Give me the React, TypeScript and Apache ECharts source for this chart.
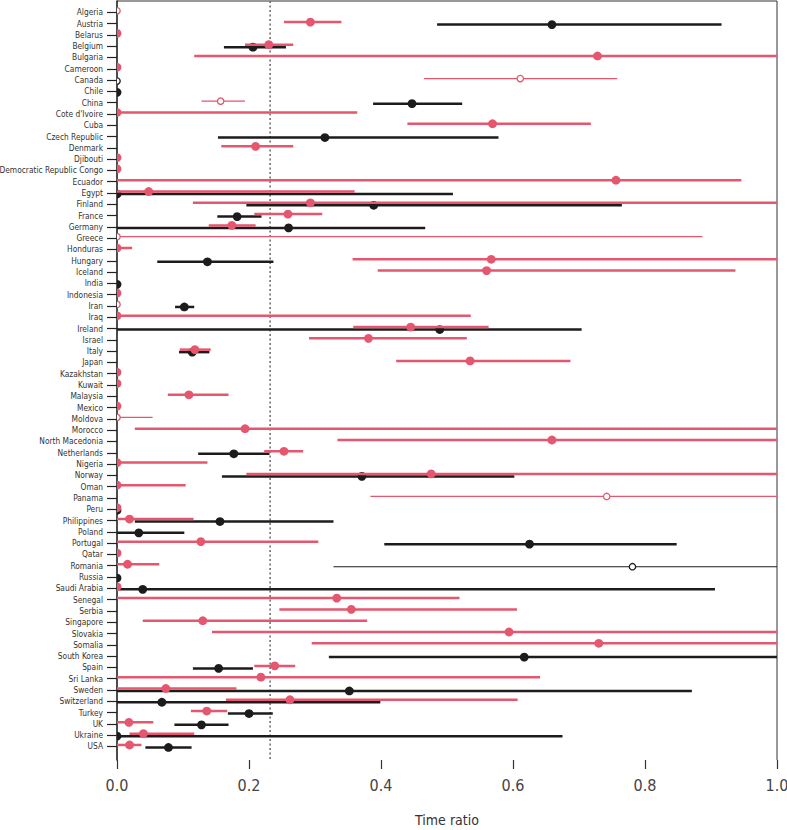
import React, { useEffect, useRef } from "react";
import * as echarts from "echarts";

const countries = [
  "Algeria", "Austria", "Belarus", "Belgium", "Bulgaria", "Cameroon", "Canada", "Chile", "China",
  "Cote d'Ivoire", "Cuba", "Czech Republic", "Denmark", "Djibouti", "Democratic Republic Congo",
  "Ecuador", "Egypt", "Finland", "France", "Germany", "Greece", "Honduras", "Hungary", "Iceland",
  "India", "Indonesia", "Iran", "Iraq", "Ireland", "Israel", "Italy", "Japan", "Kazakhstan", "Kuwait",
  "Malaysia", "Mexico", "Moldova", "Morocco", "North Macedonia", "Netherlands", "Nigeria", "Norway",
  "Oman", "Panama", "Peru", "Philippines", "Poland", "Portugal", "Qatar", "Romania", "Russia",
  "Saudi Arabia", "Senegal", "Serbia", "Singapore", "Slovakia", "Somalia", "South Korea", "Spain",
  "Sri Lanka", "Sweden", "Switzerland", "Turkey", "UK", "Ukraine", "USA",
];

const N = null;
// pink group: estimate, lower, upper, open marker
const pinkEst = [0, 0.293, 0, 0.230, 0.728, 0, 0.611, N, 0.157, 0, 0.569, N, 0.210, 0, 0, 0.756, 0.048, 0.293, 0.259, 0.174, 0, 0, 0.567, 0.560, N, 0, 0, 0, 0.445, 0.381, 0.118, 0.535, 0, 0, 0.109, 0, 0, 0.194, 0.659, 0.253, 0, 0.476, 0, 0.742, 0, 0.019, N, 0.127, 0, 0.016, N, 0, 0.333, 0.355, 0.130, 0.594, 0.730, N, 0.239, 0.218, 0.074, 0.262, 0.136, 0.018, 0.040, 0.019];
const pinkLow = [0, 0.253, 0, 0.194, 0.117, 0, 0.465, N, 0.128, 0, 0.440, N, 0.158, 0, 0, 0, 0, 0.115, 0.208, 0.139, 0, 0, 0.357, 0.395, N, 0, 0, 0, 0.358, 0.291, 0.095, 0.423, 0, 0, 0.077, 0, 0, 0.027, 0.334, 0.223, 0, 0.196, 0, 0.384, 0, 0, N, 0, 0, 0, N, 0, 0, 0.246, 0.039, 0.144, 0.295, N, 0.208, 0, 0, 0.165, 0.112, 0, 0.019, 0];
const pinkHigh = [0, 0.340, 0, 0.267, 1.2, 0, 0.758, N, 0.194, 0.364, 0.718, N, 0.267, 0, 0, 0.946, 0.360, 1.2, 0.311, 0.210, 0.887, 0.023, 1.2, 0.937, N, 0, 0, 0.536, 0.563, 0.530, 0.142, 0.687, 0, 0, 0.169, 0, 0.054, 1.2, 1.2, 0.282, 0.137, 1.2, 0.104, 1.2, 0, 0.116, N, 0.305, 0, 0.064, N, 0, 0.519, 0.606, 0.379, 1.2, 1.2, N, 0.270, 0.641, 0.181, 0.607, 0.167, 0.055, 0.117, 0.037];
const pinkOpen = ["Algeria", "Canada", "China", "Greece", "Iran", "Moldova", "Panama"];

// black group
const blackEst = [N, 0.659, N, 0.206, N, N, 0, 0, 0.447, N, N, 0.315, N, N, N, N, 0, 0.389, 0.182, 0.260, N, N, 0.137, N, 0, N, 0.102, N, 0.489, N, 0.114, N, N, N, N, N, N, N, N, 0.177, N, 0.371, N, N, 0, 0.156, 0.033, 0.625, N, 0.781, 0, 0.039, N, N, N, N, N, 0.617, 0.154, N, 0.352, 0.068, 0.200, 0.128, 0, 0.078];
const blackLow = [N, 0.485, N, 0.162, N, N, 0, 0, 0.388, N, N, 0.153, N, N, N, N, 0, 0.196, 0.152, 0, N, N, 0.061, N, 0, N, 0.088, N, 0, N, 0.094, N, N, N, N, N, N, N, N, 0.123, N, 0.159, N, N, 0, 0.027, 0, 0.405, N, 0.328, 0, 0, N, N, N, N, N, 0.321, 0.115, N, 0, 0, 0.168, 0.087, 0, 0.043];
const blackHigh = [N, 0.916, N, 0.256, N, N, 0, 0, 0.523, N, N, 0.578, N, N, N, N, 0.509, 0.765, 0.219, 0.467, N, N, 0.237, N, 0, N, 0.117, N, 0.704, N, 0.140, N, N, N, N, N, N, N, N, 0.231, N, 0.602, N, N, 0, 0.328, 0.102, 0.848, N, 1.2, 0, 0.906, N, N, N, N, N, 1.2, 0.206, N, 0.871, 0.399, 0.236, 0.169, 0.675, 0.113];
const blackOpen = ["Canada", "Romania"];

const referenceLine = 0.232;
const xTicks = [0, 0.2, 0.4, 0.6, 0.8, 1.0];
const yMin = -1;
const yMax = 66.2;

const PINK = "#e5566f";
const BLACK = "#1c1c1c";
const FONT = "'DejaVu Sans Condensed', 'Liberation Sans Narrow', sans-serif";

function buildData(est: any[], lo: any[], hi: any[], open: string[]) {
  const out: any[] = [];
  countries.forEach((c, i) => {
    if (est[i] === null) return;
    out.push([est[i], lo[i], hi[i], i, open.includes(c) ? 1 : 0]);
  });
  return out;
}

function makeRender(color: string, dy: number) {
  return (params: any, api: any) => {
    const est = api.value(0);
    const lo = api.value(1);
    const hi = api.value(2);
    const row = api.value(3);
    const open = api.value(4) === 1;
    const c = api.coord([est, row]);
    const l = api.coord([lo, row]);
    const h = api.coord([hi, row]);
    const cs = params.coordSys;
    const y = c[1] + dy;
    const x1 = Math.max(l[0], cs.x);
    const x2 = Math.min(h[0], cs.x + cs.width);
    const children: any[] = [];
    if (x2 > x1 + 0.5) {
      children.push({
        type: "line",
        shape: { x1, y1: y, x2, y2: y },
        style: { stroke: color, lineWidth: open ? 1.2 : 2.5 },
      });
    }
    children.push({
      type: "circle",
      shape: { cx: c[0], cy: y, r: open ? 3.2 : 4.4 },
      style: open ? { fill: "#fff", stroke: color, lineWidth: 1.3 } : { fill: color },
    });
    return { type: "group", children };
  };
}

export default function App() {
  const ref = useRef<HTMLDivElement>(null);
  useEffect(() => {
    if (!ref.current) return;
    const chart = echarts.init(ref.current, null, { renderer: "svg" });
    const rows = countries.map((_, i) => i);
    chart.setOption({
      animation: false,
      backgroundColor: "#fff",
      grid: { left: 117, right: 10, top: 1, bottom: 70, containLabel: false, outerBoundsMode: "none" },
      xAxis: {
        type: "value",
        min: 0,
        max: 1,
        interval: 0.2,
        position: "bottom",
        axisLine: { show: false, onZero: false },
        axisTick: { show: true, length: 9, lineStyle: { color: "#333", width: 1.2 } },
        splitLine: { show: false },
        axisLabel: {
          margin: 17,
          fontSize: 16,
          color: "#444",
          fontFamily: "'DejaVu Sans Condensed', sans-serif",
          formatter: (v: number) => (xTicks.some((t) => Math.abs(t - v) < 1e-9) ? v.toFixed(1) : ""),
        },
        name: "Time ratio",
        nameLocation: "middle",
        nameGap: 53,
        nameTextStyle: { fontSize: 14, color: "#333", fontFamily: "'DejaVu Sans Condensed', sans-serif" },
      },
      yAxis: {
        type: "value",
        inverse: true,
        min: yMin,
        max: yMax,
        axisLine: { show: true, onZero: false, lineStyle: { color: "#111", width: 1.5 } },
        axisTick: { show: true, length: 10, customValues: rows, lineStyle: { color: "#222", width: 1.2 } },
        splitLine: { show: false },
        axisLabel: {
          customValues: rows,
          margin: 14,
          fontSize: 8.3,
          color: "#333",
          fontFamily: FONT,
          formatter: (v: number) => countries[Math.round(v)] ?? "",
        },
      },
      series: [
        {
          type: "line",
          name: "frame",
          data: [
            [0, yMin],
            [1, yMin],
            [1, yMax],
          ],
          symbol: "none",
          lineStyle: { color: "#333", width: 1 },
          silent: true,
          clip: false,
          z: 1,
        },
        {
          type: "line",
          name: "reference",
          data: [
            [referenceLine, yMin],
            [referenceLine, yMax],
          ],
          symbol: "none",
          lineStyle: { color: "#666", width: 1.5, type: [2, 2.5] },
          silent: true,
          z: 1,
        },
        {
          type: "custom",
          name: "black",
          clip: true,
          renderItem: makeRender(BLACK, 1),
          data: buildData(blackEst, blackLow, blackHigh, blackOpen),
          encode: { x: [0, 1, 2], y: 3 },
          z: 3,
        },
        {
          type: "custom",
          name: "pink",
          clip: true,
          renderItem: makeRender(PINK, -1.5),
          data: buildData(pinkEst, pinkLow, pinkHigh, pinkOpen),
          encode: { x: [0, 1, 2], y: 3 },
          z: 4,
        },
      ],
    });
    return () => chart.dispose();
  }, []);
  return <div ref={ref} style={{ width: 787, height: 830, position: "absolute", left: 0, top: 0 }} />;
}
